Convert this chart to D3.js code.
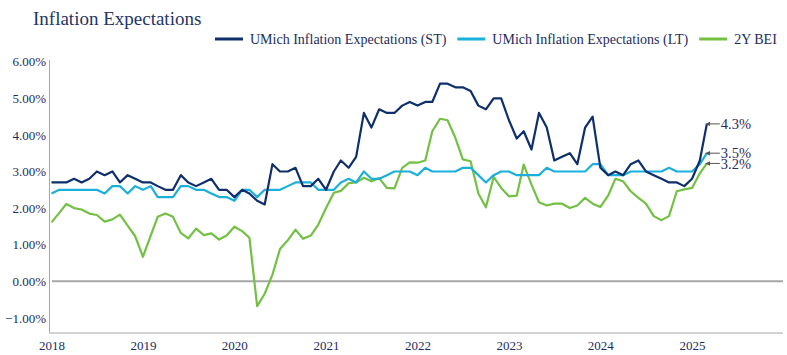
<!DOCTYPE html>
<html>
<head>
<meta charset="utf-8">
<script src="https://cdn.jsdelivr.net/npm/d3@7"></script>
<style>
  html, body { margin: 0; padding: 0; background: #fff; }
  svg { display: block; font-family: "Liberation Serif", "Times New Roman", serif; }
</style>
</head>
<body>
<svg id="chart" width="787" height="355"></svg>
<script>
// ---- Data (monthly, first point = Jan 2018) ----
const startYear = 2018;
const umichST = [
  2.7,
  2.7, 2.7, 2.8, 2.7, 2.8, 3.0, 2.9, 3.0, 2.7, 2.9, 2.8, 2.7,
  2.7, 2.6, 2.5, 2.5, 2.9, 2.7, 2.6, 2.7, 2.8, 2.5, 2.5, 2.3,
  2.5, 2.4, 2.2, 2.1, 3.2, 3.0, 3.0, 3.1, 2.6, 2.6, 2.8, 2.5,
  3.0, 3.3, 3.1, 3.4, 4.6, 4.2, 4.7, 4.6, 4.6, 4.8, 4.9, 4.8,
  4.9, 4.9, 5.4, 5.4, 5.3, 5.3, 5.2, 4.8, 4.7, 5.0, 5.0, 4.4,
  3.9, 4.1, 3.6, 4.6, 4.2, 3.3, 3.4, 3.5, 3.2, 4.2, 4.5, 3.1,
  2.9, 3.0, 2.9, 3.2, 3.3, 3.0, 2.9, 2.8, 2.7, 2.7, 2.6, 2.8,
  3.3, 4.3
];
const umichLT = [
  2.4,
  2.5, 2.5, 2.5, 2.5, 2.5, 2.5, 2.4, 2.6, 2.6, 2.4, 2.6, 2.5,
  2.6, 2.3, 2.3, 2.3, 2.6, 2.6, 2.5, 2.5, 2.4, 2.3, 2.3, 2.2,
  2.5, 2.5, 2.3, 2.5, 2.5, 2.5, 2.6, 2.7, 2.7, 2.7, 2.5, 2.5,
  2.5, 2.7, 2.8, 2.7, 3.0, 2.8, 2.8, 2.9, 3.0, 3.0, 3.0, 2.9,
  3.1, 3.0, 3.0, 3.0, 3.0, 3.1, 3.1, 2.9, 2.7, 2.9, 3.0, 3.0,
  2.9, 2.9, 2.9, 2.9, 3.1, 3.0, 3.0, 3.0, 3.0, 3.0, 3.2, 3.2,
  2.9, 2.9, 2.9, 3.0, 3.0, 3.0, 3.0, 3.0, 3.1, 3.0, 3.0, 3.0,
  3.2, 3.5
];
const bei2y = [
  1.61,
  1.87, 2.11, 2.00, 1.96, 1.85, 1.81, 1.63, 1.69, 1.82, 1.52, 1.23, 0.67,
  1.25, 1.76, 1.85, 1.76, 1.32, 1.17, 1.44, 1.26, 1.31, 1.14, 1.25, 1.49,
  1.37, 1.19, -0.68, -0.34, 0.18, 0.88, 1.12, 1.41, 1.16, 1.25, 1.55, 2.00,
  2.42, 2.47, 2.68, 2.70, 2.83, 2.73, 2.82, 2.55, 2.54, 3.10, 3.25, 3.24,
  3.30, 4.10, 4.44, 4.40, 3.92, 3.33, 3.28, 2.40, 2.02, 2.85, 2.55, 2.32,
  2.34, 3.19, 2.64, 2.16, 2.07, 2.12, 2.12, 2.00, 2.07, 2.28, 2.12, 2.03,
  2.34, 2.80, 2.73, 2.46, 2.28, 2.12, 1.78, 1.67, 1.78, 2.46, 2.51, 2.55,
  2.95, 3.22
];
const yTicks = [-1, 0, 1, 2, 3, 4, 5, 6];
const xTickYears = [2018, 2019, 2020, 2021, 2022, 2023, 2024, 2025];
const seriesNames = ["UMich Inflation Expectations (ST)", "UMich Inflation Expectations (LT)", "2Y BEI"];
const seriesColors = ["#0e2f6c", "#1bafdb", "#74c044"];
const endLabels = ["4.3%", "3.5%", "3.2%"];
const titleText = "Inflation Expectations";

// ---- Setup ----
const svg = d3.select("#chart");
const textColor = "#1c2c5c";
const axisX = 49, plotRight = 783, axisBottom = 332.5, plotTop = 61.7;

const x = d3.scaleTime()
  .domain([new Date(startYear, 0, 1), new Date(2026, 0, 1)])
  .range([51.5, 783.5]);
const y = d3.scaleLinear().domain([-1.4, 6]).range([axisBottom, plotTop]);

const dateAt = i => new Date(startYear, i, 1);

// Title
svg.append("text")
  .attr("x", 33).attr("y", 25)
  .attr("font-size", 19).attr("fill", "#1f3566")
  .text(titleText);

// Y axis
const yAxis = svg.append("g")
  .attr("transform", `translate(${axisX},0)`)
  .call(d3.axisLeft(y).tickValues(yTicks).tickSize(0).tickPadding(3)
    .tickFormat(d => d3.format(".2f")(d).replace("-", "\u2212") + "%"));
yAxis.select(".domain").attr("stroke", "#a6a6a6").attr("stroke-width", 1)
  .attr("d", `M0.5,${plotTop - 1.5}V${axisBottom}`);
yAxis.selectAll("text").attr("font-size", 13).attr("fill", textColor)
  .attr("font-family", "Liberation Serif, serif");

// X axis
const xAxis = svg.append("g")
  .attr("transform", `translate(0,${axisBottom})`)
  .call(d3.axisBottom(x).tickValues(xTickYears.map(yr => new Date(yr, 0, 1)))
    .tickSize(0).tickPadding(8).tickFormat(d3.timeFormat("%Y")));
xAxis.select(".domain").attr("stroke", "#a6a6a6").attr("stroke-width", 1)
  .attr("d", `M${axisX},0.5H${plotRight}`);
xAxis.selectAll("text").attr("font-size", 13).attr("fill", textColor)
  .attr("font-family", "Liberation Serif, serif");

// Zero line
svg.append("line")
  .attr("x1", axisX + 3).attr("x2", plotRight)
  .attr("y1", y(0)).attr("y2", y(0))
  .attr("stroke", "#a6a6a6").attr("stroke-width", 2.2);

// Lines
const line = d3.line().x((d, i) => x(dateAt(i))).y(d => y(d));
const allSeries = [umichST, umichLT, bei2y];
// draw order: green, cyan, navy (navy on top)
[2, 1, 0].forEach(k => {
  svg.append("path")
    .datum(allSeries[k])
    .attr("fill", "none")
    .attr("stroke", seriesColors[k])
    .attr("stroke-width", 2.2)
    .attr("stroke-linejoin", "round")
    .attr("d", line);
});

// End labels with arrows
const defs = svg.append("defs");
defs.append("marker")
  .attr("id", "arrow").attr("viewBox", "0 0 10 10")
  .attr("refX", 1).attr("refY", 5)
  .attr("markerWidth", 6).attr("markerHeight", 6)
  .attr("orient", "auto-start-reverse")
  .append("path").attr("d", "M0,1L9,5L0,9Z").attr("fill", "#555");

allSeries.forEach((s, k) => {
  const last = s.length - 1;
  const px = x(dateAt(last));
  const py = y(s[last]);
  svg.append("line")
    .attr("x1", px + 3).attr("x2", px + 13)
    .attr("y1", py).attr("y2", py)
    .attr("stroke", "#555").attr("stroke-width", 1)
    .attr("marker-start", "url(#arrow)");
  svg.append("text")
    .attr("x", px + 14).attr("y", py)
    .attr("dy", "0.35em")
    .attr("font-size", 14.5).attr("fill", "#2c2b5e")
    .text(endLabels[k]);
});

// Legend
let lx = 215;
const ly = 39;
seriesNames.forEach((name, k) => {
  svg.append("line")
    .attr("x1", lx).attr("x2", lx + 28)
    .attr("y1", ly).attr("y2", ly)
    .attr("stroke", seriesColors[k]).attr("stroke-width", 3);
  const t = svg.append("text")
    .attr("x", lx + 35).attr("y", ly).attr("dy", "0.35em")
    .attr("font-size", 14).attr("fill", textColor)
    .text(name);
  lx = lx + 35 + t.node().getComputedTextLength() + 11;
});
</script>
</body>
</html>
